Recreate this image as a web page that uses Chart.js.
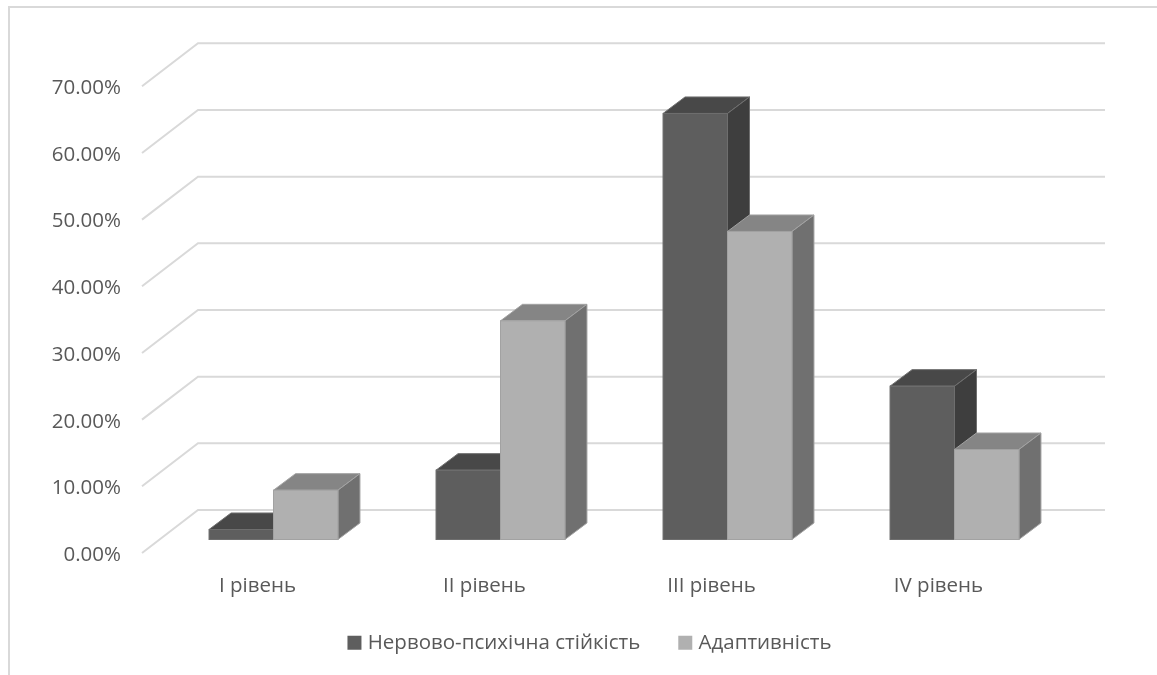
<!DOCTYPE html>
<html>
<head>
    <title>Рівні нервово-психічної стійкості та адаптивності</title>
    <script src="https://cdn.jsdelivr.net/npm/chart.js"></script>
    <style>
        body { margin: 0; background: #fff; }
        canvas { display: block; }
    </style>
</head>
<body>
    <canvas id="levelsChart" width="1157" height="675"></canvas>

    <script>
        const levels = ['I рівень', 'II рівень', 'III рівень', 'IV рівень'];
        const stability = [1.5, 10.4, 63.9, 23.0];
        const adaptivity = [7.4, 32.8, 46.2, 13.5];

        const textColor = '#595959';
        const gridColor = '#d9d9d9';
        const fontFamily = '"Open Sans", sans-serif';
        const fontSize = 20.5;

        // Side and top faces of the columns, plus the floor/back-wall lines
        const boxFaces = {
            id: 'boxFaces',
            beforeDatasetsDraw(chart) {
                const { ctx, scales } = chart;
                const x = scales.x;
                const wall = scales.yLabels;

                ctx.save();
                ctx.strokeStyle = gridColor;
                ctx.lineWidth = 2;
                wall.ticks.forEach(tick => {
                    const y = wall.getPixelForValue(tick.value);
                    ctx.beginPath();
                    ctx.moveTo(x.left - 18, y - 2);
                    ctx.lineTo(x.left + 38, y - 45);
                    ctx.lineTo(x.right + 37, y - 45);
                    ctx.stroke();
                });

                const dx = 22, dy = 16.5;
                ctx.lineWidth = 1;
                chart.data.datasets.forEach((set, i) => {
                    ctx.strokeStyle = set.edgeColor;
                    chart.getDatasetMeta(i).data.forEach(bar => {
                        const l = bar.x - bar.width / 2;
                        const r = bar.x + bar.width / 2;
                        ctx.fillStyle = set.topColor;
                        ctx.beginPath();
                        ctx.moveTo(l, bar.y);
                        ctx.lineTo(l + dx, bar.y - dy);
                        ctx.lineTo(r + dx, bar.y - dy);
                        ctx.lineTo(r, bar.y);
                        ctx.closePath();
                        ctx.fill();
                        ctx.stroke();
                        ctx.fillStyle = set.sideColor;
                        ctx.beginPath();
                        ctx.moveTo(r, bar.y);
                        ctx.lineTo(r + dx, bar.y - dy);
                        ctx.lineTo(r + dx, bar.base - dy);
                        ctx.lineTo(r, bar.base);
                        ctx.closePath();
                        ctx.fill();
                        ctx.stroke();
                    });
                });
                ctx.restore();
            },
            // faint outline around the front faces
            afterDatasetsDraw(chart) {
                const { ctx } = chart;
                ctx.save();
                ctx.lineWidth = 1;
                chart.data.datasets.forEach((set, i) => {
                    ctx.strokeStyle = set.edgeColor;
                    chart.getDatasetMeta(i).data.forEach(bar => {
                        ctx.strokeRect(bar.x - bar.width / 2, bar.y, bar.width, bar.base - bar.y);
                    });
                });
                ctx.restore();
            }
        };

        // Thin frame along the top and left of the chart
        const frame = {
            id: 'frame',
            // the legend overlaps the x axis box a little, labels need the room
            afterLayout(chart) {
                chart.legend.top -= 8.5;
            },
            beforeDraw(chart) {
                const { ctx, width, height } = chart;
                ctx.save();
                ctx.strokeStyle = gridColor;
                ctx.lineWidth = 2;
                ctx.beginPath();
                ctx.moveTo(9, height);
                ctx.lineTo(9, 7);
                ctx.lineTo(width, 7);
                ctx.stroke();
                ctx.restore();
            }
        };

        new Chart(document.getElementById('levelsChart').getContext('2d'), {
            type: 'bar',
            data: {
                labels: levels,
                datasets: [
                    {
                        label: 'Нервово-психічна стійкість',
                        data: stability,
                        backgroundColor: '#5e5e5e',
                        topColor: '#484848',
                        sideColor: '#3e3e3e',
                        edgeColor: '#6e6e6e'
                    },
                    {
                        label: 'Адаптивність',
                        data: adaptivity,
                        backgroundColor: '#b0b0b0',
                        topColor: '#858585',
                        sideColor: '#707070',
                        edgeColor: '#a2a2a2'
                    }
                ]
            },
            options: {
                responsive: false,
                animation: false,
                datasets: { bar: { barPercentage: 1, categoryPercentage: 0.568 } },
                layout: { padding: { left: 26, top: 88.3, bottom: 3.5 } },
                scales: {
                    x: {
                        grid: { display: false, drawTicks: false },
                        border: { display: false },
                        ticks: {
                            color: textColor,
                            font: { family: fontFamily, size: fontSize },
                            labelOffset: -16,
                            padding: 19,
                            maxRotation: 0
                        },
                        afterFit: scale => { scale.height = 44; }
                    },
                    // columns sit a little above the axis floor line
                    y: {
                        position: 'right',
                        min: -2.325,
                        max: 67.675,
                        grid: { display: false },
                        border: { display: false },
                        ticks: { display: false },
                        afterFit: scale => { scale.width = 89; }
                    },
                    yLabels: {
                        position: 'left',
                        min: 0,
                        max: 70,
                        grid: { display: false, drawTicks: false },
                        border: { display: false },
                        ticks: {
                            stepSize: 10,
                            padding: 39,
                            color: textColor,
                            font: { family: fontFamily, size: fontSize },
                            callback: value => value.toFixed(2) + '%'
                        },
                        afterFit: scale => { scale.width = 134; }
                    }
                },
                plugins: {
                    tooltip: { enabled: false },
                    legend: {
                        position: 'bottom',
                        labels: {
                            color: textColor,
                            font: { family: fontFamily, size: fontSize },
                            usePointStyle: true,
                            pointStyle: 'rect',
                            boxWidth: 6,
                            boxHeight: 14,
                            padding: 42
                        }
                    }
                }
            },
            plugins: [frame, boxFaces]
        });
    </script>
</body>
</html>
